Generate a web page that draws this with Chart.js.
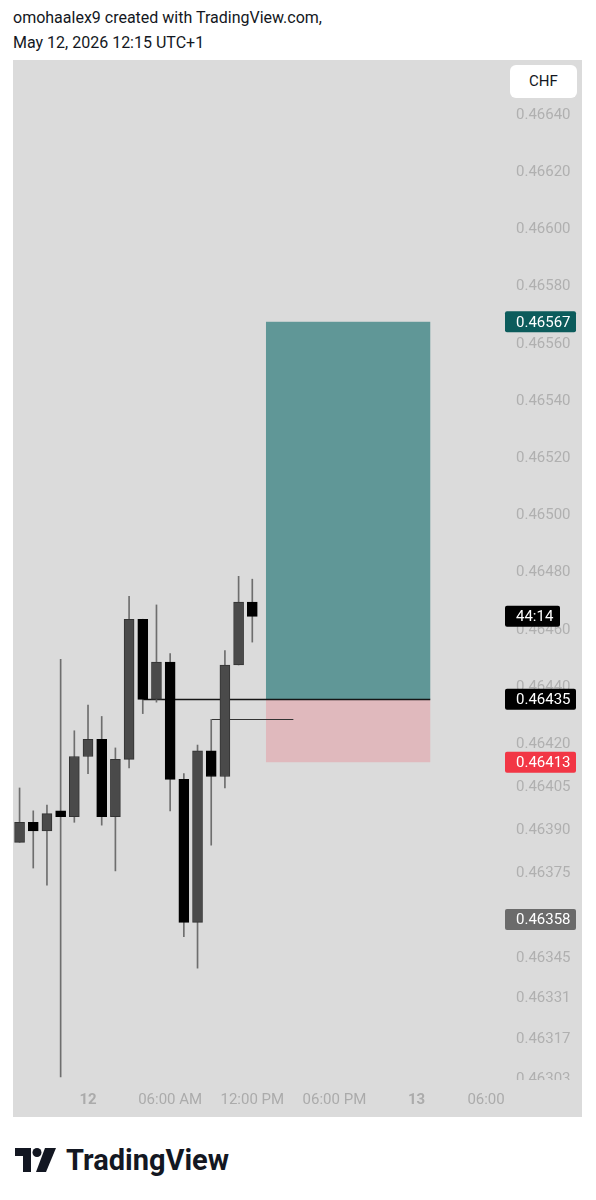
<!DOCTYPE html>
<html>
<head>
<meta charset="utf-8">
<script src="https://cdn.jsdelivr.net/npm/chart.js@4.4.1/dist/chart.umd.min.js"></script>
<style>
    body { margin: 0; background: #fff; font-family: Roboto, sans-serif; width: 596px; height: 1200px; position: relative; overflow: hidden; }
    .header { position: absolute; left: 13px; top: 5px; font-size: 16px; line-height: 25px; color: #131722; }
    .panel { position: absolute; left: 13px; top: 60px; width: 569px; height: 1057px; background: #dbdbdb; }
    .panel canvas { position: absolute; left: 0; top: 0; }
    .chf { position: absolute; left: 497px; top: 5px; width: 67px; height: 33px; background: #fff; border-radius: 6px; font-size: 15px; line-height: 33px; text-align: center; color: #131722; }
    .brand { position: absolute; left: 15px; top: 1142px; height: 36px; display: flex; align-items: center; }
    .brand span { font-size: 29px; font-weight: 700; color: #131722; margin-left: 10px; letter-spacing: 0; }
</style>
</head>
<body>
<div class="header">omohaalex9 created with TradingView.com,<br>May 12, 2026 12:15 UTC+1</div>
<div class="panel">
    <canvas id="priceChart" width="569" height="1057"></canvas>
    <div class="chf">CHF</div>
</div>
<div class="brand">
    <svg width="41" height="24" viewBox="0 0 41 24">
        <path d="M0 0H16V24H8V8H0Z" fill="#131722"/>
        <circle cx="22" cy="4.5" r="4.5" fill="#131722"/>
        <path d="M30 0H41L31 24H21Z" fill="#131722"/>
    </svg>
    <span>TradingView</span>
</div>
<script>
// CANDLES (hours from May 12 00:00, 1h bars)
const hours = [-5, -4, -3, -2, -1, 0, 1, 2, 3, 4, 5, 6, 7, 8, 9, 10, 11, 12];
const opens  = [0.46385, 0.46392, 0.46389, 0.46396, 0.46394, 0.46415, 0.46421, 0.46394, 0.46414, 0.46463, 0.46435, 0.46448, 0.46407, 0.46357, 0.46417, 0.46408, 0.46447, 0.46469];
const highs  = [0.46404, 0.46396, 0.46398, 0.46449, 0.46424, 0.46433, 0.46429, 0.46418, 0.46471, 0.46463, 0.46468, 0.46451, 0.46409, 0.46419, 0.46428, 0.46452, 0.46478, 0.46477];
const lows   = [0.46385, 0.46376, 0.46370, 0.46303, 0.46392, 0.46409, 0.46391, 0.46375, 0.46411, 0.46430, 0.46434, 0.46396, 0.46352, 0.46341, 0.46384, 0.46404, 0.46447, 0.46455];
const closes = [0.46392, 0.46389, 0.46395, 0.46394, 0.46415, 0.46421, 0.46394, 0.46414, 0.46463, 0.46435, 0.46448, 0.46407, 0.46357, 0.46417, 0.46408, 0.46447, 0.46469, 0.46464];

// AXES
const priceTicks = [0.46640, 0.46620, 0.46600, 0.46580, 0.46560, 0.46540, 0.46520, 0.46500, 0.46480, 0.46460,
    0.46440, 0.46420, 0.46405, 0.46390, 0.46375, 0.46360, 0.46345, 0.46331, 0.46317, 0.46303];
const timeTicks = [0, 6, 12, 18, 24, 30];
const timeLabels = ["12", "06:00 AM", "12:00 PM", "06:00 PM", "13", "06:00"];

// LONG POSITION TOOL
const entryPrice = 0.46435;
const targetPrice = 0.46567;
const stopPrice = 0.46413;
const positionFrom = 13;
const positionTo = 25;
const entryLineFrom = 4;
const sideLine = [9, 15, 0.46428];

// AXIS MARKERS
const markerPrice = 0.46358;
const countdown = "44:14";

const bg = "#dbdbdb";

const overlay = {
    id: "overlay",
    beforeDatasetsDraw(chart) {
        const { ctx, scales: { x, y } } = chart;
        const x0 = x.getPixelForValue(positionFrom);
        const x1 = x.getPixelForValue(positionTo);
        const yT = y.getPixelForValue(targetPrice);
        const yE = y.getPixelForValue(entryPrice);
        const yS = y.getPixelForValue(stopPrice);
        ctx.save();
        ctx.fillStyle = "#609797";
        ctx.fillRect(x0, yT, x1 - x0, yE - yT);
        ctx.fillStyle = "#e0b9bd";
        ctx.fillRect(x0, yE, x1 - x0, yS - yE);

        ctx.strokeStyle = "#151515";
        ctx.lineWidth = 1.4;
        ctx.beginPath();
        ctx.moveTo(x.getPixelForValue(entryLineFrom), Math.round(yE) + 0.5);
        ctx.lineTo(x1, Math.round(yE) + 0.5);
        ctx.stroke();

        const ys = Math.round(y.getPixelForValue(sideLine[2])) + 0.5;
        ctx.strokeStyle = "#333";
        ctx.lineWidth = 1;
        ctx.beginPath();
        ctx.moveTo(x.getPixelForValue(sideLine[0]), ys);
        ctx.lineTo(x.getPixelForValue(sideLine[1]), ys);
        ctx.stroke();
        ctx.restore();
    },
    afterDraw(chart) {
        const { ctx, chartArea, scales: { y } } = chart;
        ctx.save();
        // lowest price label is cut off by the time axis pane
        ctx.fillStyle = bg;
        ctx.fillRect(chartArea.right, chartArea.bottom - 1, chart.width - chartArea.right, 8);

        const boxes = [
            [targetPrice, targetPrice.toFixed(5), "#0c5c5c", 71],
            [closes[closes.length - 1], countdown, "#000", 55],
            [entryPrice, entryPrice.toFixed(5), "#000", 71],
            [stopPrice, stopPrice.toFixed(5), "#f23645", 71],
            [markerPrice, markerPrice.toFixed(5), "#6b6b6b", 71]
        ];
        ctx.font = "15px Roboto";
        ctx.textBaseline = "middle";
        ctx.textAlign = "left";
        boxes.forEach(([v, text, color, w]) => {
            const py = y.getPixelForValue(v);
            ctx.fillStyle = color;
            ctx.beginPath();
            ctx.roundRect(chartArea.right, py - 10.5, w, 21, 2);
            ctx.fill();
            ctx.fillStyle = "#fff";
            ctx.fillText(text, chartArea.right + 11, py + 1);
        });
        ctx.restore();
    }
};

const ctx = document.getElementById("priceChart");

const chart = new Chart(ctx, {
    type: "bar",
    data: {
        datasets: [{
            label: "Body",
            data: hours.map((h, i) => ({ x: h, y: [opens[i], closes[i]] })),
            backgroundColor: closes.map((c, i) => c >= opens[i] ? "#4a4a4a" : "#000"),
            borderColor: closes.map((c, i) => c >= opens[i] ? "#333" : "#000"),
            borderWidth: 1,
            borderSkipped: false,
            barThickness: 10,
            grouped: false
        }, {
            label: "Wick",
            data: hours.map((h, i) => ({ x: h, y: [lows[i], highs[i]] })),
            backgroundColor: "#6e6e6e",
            barThickness: 1,
            grouped: false
        }]
    },
    options: {
        responsive: false,
        animation: false,
        devicePixelRatio: 1,
        layout: { padding: 0 },
        plugins: { legend: { display: false }, tooltip: { enabled: false } },
        scales: {
            x: {
                type: "linear",
                offset: false,
                min: -5.48,
                max: 30.46,
                grid: { display: false, drawTicks: false },
                border: { display: false },
                afterBuildTicks: s => { s.ticks = timeTicks.map(v => ({ value: v })); },
                afterFit: s => { s.height = 36; s.paddingLeft = 0; s.paddingRight = 0; },
                ticks: {
                    autoSkip: false,
                    maxRotation: 0,
                    padding: 10,
                    color: "#ababab",
                    font: c => ({ family: "Roboto", size: 15, weight: (c.index === 0 || c.index === 4) ? "bold" : "normal" }),
                    // last label is pushed left so it stays clear of the price scale
                    callback: (v, i) => i === timeLabels.length - 1 ? timeLabels[i] + "\u2007\u2007\u2007" : timeLabels[i]
                }
            },
            y: {
                position: "right",
                min: 0.4630154,
                max: 0.4665853,
                grid: { display: false, drawTicks: false },
                border: { display: false },
                afterBuildTicks: s => { s.ticks = priceTicks.map(v => ({ value: v })); },
                afterFit: s => { s.width = 77; s.paddingTop = 0; s.paddingBottom = 0; },
                ticks: {
                    autoSkip: false,
                    padding: 11,
                    labelOffset: 2,
                    color: "#b0b0b0",
                    font: { family: "Roboto", size: 15 },
                    callback: v => v.toFixed(5)
                }
            }
        }
    },
    plugins: [overlay]
});
</script>
</body>
</html>
